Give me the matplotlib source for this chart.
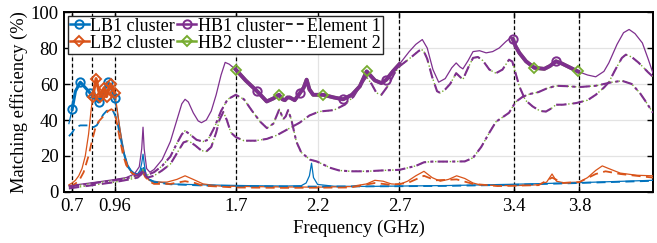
import matplotlib
matplotlib.use("Agg")
import matplotlib.pyplot as plt
from matplotlib.lines import Line2D

plt.rcParams['font.family'] = ['Liberation Serif', 'DejaVu Serif']
plt.rcParams['font.size'] = 13
plt.rcParams['axes.linewidth'] = 1.4
plt.rcParams['xtick.direction'] = 'in'
plt.rcParams['ytick.direction'] = 'in'
plt.rcParams['xtick.top'] = True
plt.rcParams['ytick.right'] = True

BLUE = '#0072BD'
ORANGE = '#D95319'
PURPLE = '#7E2F8E'
GREEN = '#77AC30'

# ---------------- data ----------------
band_edges = [0.7, 0.824, 0.96, 1.7, 2.7, 3.4, 3.8]
xtick_vals = [0.7, 0.96, 1.7, 2.2, 2.7, 3.4, 3.8]
xtick_labels = ['0.7', '0.96', '1.7', '2.2', '2.7', '3.4', '3.8']

# LB1 cluster, full-band (thin)
lb1_f = [0.68, 0.70, 0.72, 0.74, 0.76, 0.78, 0.80, 0.82, 0.84, 0.86, 0.88, 0.90, 0.915, 0.93, 0.945,
         0.96, 0.975, 0.99, 1.005, 1.02, 1.04, 1.06, 1.08, 1.10, 1.115, 1.125, 1.133, 1.14, 1.15,
         1.17, 1.2, 1.3, 1.4, 1.6, 1.8, 2.0, 2.1, 2.13, 2.15, 2.163, 2.175, 2.2, 2.3, 2.5, 2.7,
         3.0, 3.4, 3.8, 4.25]
lb1_e = [38, 46, 56, 60.5, 60.5, 58, 55.5, 53, 51.5, 50, 52, 57, 61, 60, 56,
         51, 45, 36, 28, 21, 15, 12, 10.5, 10, 12, 16, 21, 16, 10,
         7, 6, 4.5, 4.2, 3.8, 3.5, 3.3, 3.5, 5, 9, 16, 8, 4.2, 3.2, 3.1, 3.3,
         3.6, 4.3, 5.2, 6.5]
# LB1 cluster, in-band (thick)
lb1b_f = [0.70, 0.72, 0.75, 0.78, 0.81, 0.835, 0.862, 0.89, 0.917, 0.935, 0.96]
lb1b_e = [46, 56, 61, 58, 55, 52, 50, 55, 61, 59, 52]
lb1b_mk = [0.70, 0.75, 0.81, 0.862, 0.917, 0.96]
# LB1 element 1
lb1e1_f = [0.68, 0.70, 0.72, 0.75, 0.78, 0.80, 0.83, 0.85, 0.87, 0.89, 0.91, 0.93, 0.95, 0.965,
           0.98, 1.0, 1.02, 1.04, 1.07, 1.10, 1.12, 1.133, 1.145, 1.17, 1.2, 1.3, 1.5, 1.8,
           2.2, 2.7, 3.0, 3.4, 3.8, 4.25]
lb1e1_e = [31, 33, 36, 37, 37, 37, 36, 37, 40, 43, 45, 46, 45, 42,
           37, 28, 20, 14, 10.5, 9, 11, 15, 10, 7, 5.5, 4.3, 3.6, 3.2,
           3.0, 3.2, 3.4, 4.0, 5.0, 6.2]

# LB2 cluster, full-band (thin)
lb2_f = [0.68, 0.70, 0.72, 0.74, 0.76, 0.78, 0.80, 0.815, 0.826, 0.846, 0.87, 0.895, 0.91, 0.935,
         0.96, 0.975, 0.99, 1.005, 1.02, 1.04, 1.07, 1.10, 1.12, 1.133, 1.145, 1.17, 1.2, 1.28,
         1.34, 1.39, 1.44, 1.5, 1.6, 1.8, 2.0, 2.2, 2.4, 2.5, 2.55, 2.6, 2.65, 2.7, 2.75, 2.8,
         2.85, 2.9, 2.95, 3.0, 3.05, 3.1, 3.15, 3.2, 3.4, 3.55, 3.6, 3.633, 3.66, 3.7, 3.8,
         3.85, 3.9, 3.94, 3.98, 4.05, 4.15, 4.25]
lb2_e = [4, 5, 6.5, 9, 13, 20, 32, 45, 53, 63, 53, 58, 53, 60,
         55, 46, 36, 27, 20, 14, 10, 9, 10, 12, 9, 6.5, 5.5, 5.5,
         7, 9, 7, 4.5, 3.3, 3, 2.8, 2.7, 3, 4.5, 6.5, 6, 4.5, 4.2, 6, 9,
         11.5, 8, 6, 7, 9, 7.5, 5, 3.8, 3.5, 4, 5.5, 10, 6, 5.2, 5.5,
         8, 12, 14.5, 13, 10.5, 9.3, 9]
# LB2 cluster, in-band (thick)
lb2b_f = [0.826, 0.846, 0.87, 0.895, 0.91, 0.935, 0.96]
lb2b_e = [53, 63, 53, 58, 53, 60, 55]
lb2b_mk = [0.826, 0.846, 0.87, 0.895, 0.91, 0.935, 0.96]
# LB2 element 1
lb2e1_f = [0.68, 0.70, 0.74, 0.77, 0.80, 0.82, 0.84, 0.86, 0.88, 0.90, 0.92, 0.94, 0.955, 0.97,
           0.99, 1.01, 1.03, 1.06, 1.09, 1.12, 1.133, 1.145, 1.17, 1.2, 1.3, 1.39, 1.45, 1.5,
           1.7, 2.0, 2.4, 2.55, 2.65, 2.75, 2.85, 2.92, 3.05, 3.15, 3.3, 3.55, 3.633, 3.7, 3.8,
           3.9, 3.96, 4.05, 4.25]
lb2e1_e = [3, 3.5, 6, 11, 20, 28, 35, 39, 41, 43, 45, 46, 45, 40,
           30, 21, 15, 11, 9, 9.5, 11, 8.5, 6, 4.5, 4.5, 6, 5, 3.5,
           2.5, 2.3, 2.5, 5, 4, 5, 9, 6.5, 7, 4.5, 3.3, 3.8, 8, 5, 5.5,
           10, 11.5, 10, 8]

# HB1 cluster, full-band (thin)
hb1_f = [0.68, 0.75, 0.85, 0.95, 1.03, 1.08, 1.11, 1.125, 1.133, 1.14, 1.155, 1.175, 1.2, 1.25,
         1.3, 1.34, 1.37, 1.39, 1.41, 1.44, 1.47, 1.49, 1.52, 1.55, 1.58, 1.61, 1.635, 1.66,
         1.70, 1.76, 1.83, 1.889, 1.93, 1.964, 1.985, 2.0, 2.015, 2.03, 2.06, 2.092, 2.115,
         2.133, 2.15, 2.173, 2.234, 2.30, 2.356, 2.41, 2.458, 2.50, 2.55, 2.59, 2.62, 2.66,
         2.70, 2.76, 2.80, 2.84, 2.87, 2.905, 2.94, 2.98, 3.02, 3.047, 3.07, 3.088, 3.12, 3.15,
         3.19, 3.23, 3.27, 3.31, 3.35, 3.383, 3.41, 3.433, 3.474, 3.525, 3.586, 3.62, 3.657,
         3.69, 3.728, 3.79, 3.85, 3.9, 3.95, 3.98, 4.03, 4.07, 4.104, 4.14, 4.185, 4.22, 4.25]
hb1_e = [3.5, 4.3, 5.5, 6.8, 8, 10, 14, 24, 36, 24, 13, 11, 12.5, 18,
         28, 40, 49, 51.5, 50, 44, 39.5, 38.5, 40, 45, 54, 65, 72, 71,
         68, 62, 56, 50.3, 52, 54, 51.5, 51, 52.5, 52.5, 51, 55, 58,
         62.4, 57, 54, 54, 52.5, 51.5, 54, 58.7, 67, 62, 60.5, 62.4, 67,
         71, 78, 82, 84.7, 80, 68, 61, 63, 69, 71.7, 69.5, 68.4, 73, 78,
         78.5, 77.3, 78, 80, 83.5, 86, 81, 77.3, 72.6, 69, 68.4, 70, 72.6,
         71.5, 69.8, 67, 65, 64, 67, 71.7, 82, 88.5, 90.3, 88, 82.8, 74, 66]
# HB1 cluster, in-band (thick), two bands
hb1b1_f = [1.70, 1.76, 1.83, 1.889, 1.93, 1.964, 1.985, 2.0, 2.015, 2.03, 2.06, 2.092, 2.115,
           2.133, 2.15, 2.173, 2.234, 2.30, 2.356, 2.41, 2.458, 2.50, 2.55, 2.59, 2.62, 2.66, 2.70]
hb1b1_e = [68, 62, 56, 50.3, 52, 54, 51.5, 51, 52.5, 52.5, 51, 55, 58,
           62.4, 57, 54, 54, 52.5, 51.5, 54, 58.7, 67, 62, 60.5, 62.4, 67, 71]
hb1b2_f = [3.393, 3.41, 3.433, 3.474, 3.525, 3.586, 3.62, 3.657, 3.69, 3.728, 3.79]
hb1b2_e = [85, 81, 77.3, 72.6, 69, 68.4, 70, 72.6, 71.5, 69.8, 67]
hb1_mk = [1.83, 2.092, 2.356, 2.62, 3.393, 3.657]
hb2_mk = [1.70, 1.964, 2.234, 2.50, 3.525, 3.79]

# HB element 1 (dashed)
hbe1_f = [0.68, 0.8, 0.96, 1.05, 1.10, 1.125, 1.133, 1.14, 1.16, 1.2, 1.25, 1.3, 1.35, 1.38, 1.41,
          1.45, 1.49, 1.52, 1.55, 1.58, 1.60, 1.624, 1.645, 1.67, 1.70, 1.75, 1.82, 1.89, 1.95,
          2.03, 2.09, 2.15, 2.21, 2.30, 2.366, 2.42, 2.46, 2.499, 2.53, 2.56, 2.59, 2.63, 2.67,
          2.70, 2.76, 2.82, 2.845, 2.87, 2.9, 2.93, 2.95, 2.98, 3.01, 3.047, 3.07, 3.088, 3.12,
          3.15, 3.18, 3.21, 3.25, 3.29, 3.33, 3.37, 3.39, 3.41, 3.433, 3.47, 3.515, 3.56, 3.596,
          3.63, 3.657, 3.70, 3.78, 3.85, 3.90, 3.95, 3.98, 4.02, 4.06, 4.084, 4.12, 4.16, 4.185,
          4.22, 4.25]
hbe1_e = [2, 3.5, 5.5, 7, 8, 10, 12, 10, 8, 9, 12, 15.5, 23, 27.5, 28.5,
          26, 23, 22.5, 25, 33, 40, 44.5, 40, 33, 30.5, 28.5, 28.5, 29.5, 31.5,
          35.5, 38.5, 42.5, 44.7, 45.5, 48.5, 53, 59, 64, 60, 55, 54, 59, 66,
          69.8, 74, 78.5, 79, 74, 64, 56, 55, 57, 60, 66, 64, 62.5, 69,
          74.5, 75, 73, 68, 66, 68, 73.5, 72.5, 66, 58.7, 51, 47.5, 45, 44.7,
          46.5, 48.5, 48.5, 49.4, 51, 54, 58, 61, 68, 74.5, 76.3, 75, 72, 69.8,
          66.5, 64]
# HB element 2 (dash-dot)
hbe2_f = [0.68, 0.8, 0.96, 1.05, 1.10, 1.125, 1.133, 1.14, 1.16, 1.2, 1.25, 1.3, 1.34, 1.37, 1.39,
          1.42, 1.46, 1.50, 1.53, 1.57, 1.61, 1.65, 1.70, 1.75, 1.80, 1.85, 1.89, 1.93, 1.966,
          1.99, 2.005, 2.02, 2.04, 2.07, 2.10, 2.153, 2.194, 2.23, 2.275, 2.33, 2.4, 2.5, 2.6,
          2.7, 2.8, 2.85, 2.9, 3.0, 3.1, 3.15, 3.2, 3.25, 3.29, 3.33, 3.37, 3.41, 3.455, 3.5,
          3.55, 3.6, 3.657, 3.72, 3.8, 3.9, 4.0, 4.06, 4.12, 4.17, 4.2, 4.25]
hbe2_e = [3, 4.5, 6.5, 8, 9.5, 11, 12.5, 11, 9.5, 11, 14.5, 19.7, 27, 32, 34,
          32, 29, 28, 29, 36, 45, 51.5, 54, 51.5, 45, 39, 35.5, 38, 46,
          40.5, 42, 45.5, 40, 28, 22, 18, 17, 15.5, 13.5, 12, 11.5, 11.5, 12,
          12.3, 14.5, 16.5, 16.9, 16.9, 17, 19, 25, 33, 39, 41.5, 44, 50, 53, 54.5,
          55.5, 57.5, 59, 58.8, 58.3, 59, 61, 61.8, 60, 55, 51, 44]

# ---------------- figure ----------------
fig = plt.figure(figsize=(6.57, 2.43), dpi=100)
ax = fig.add_axes([64 / 657, 1 - 192 / 243, 589 / 657, 180 / 243])
ax.set_xlim(0.65, 4.25)
ax.set_ylim(0, 100)

ax.grid(True, color='#e3e3e3', linewidth=0.9, zorder=0)
ax.set_axisbelow(True)

for xv in band_edges:
    ax.axvline(xv, color='black', linestyle=(0, (3, 2)), linewidth=0.9, zorder=1)

dash = (0, (5, 3))
dashdot = (0, (5, 2, 1.5, 2))

# thin full-range curves
ax.plot(lb1_f, lb1_e, color=BLUE, lw=0.9, zorder=3)
ax.plot(lb2_f, lb2_e, color=ORANGE, lw=0.9, zorder=3)
ax.plot(hb1_f, hb1_e, color=PURPLE, lw=0.9, zorder=3)

# elements
ax.plot(lb1e1_f, lb1e1_e, color=BLUE, lw=1.3, linestyle=dash, zorder=3)
ax.plot(lb2e1_f, lb2e1_e, color=ORANGE, lw=1.3, linestyle=dash, zorder=3)
ax.plot(hbe1_f, hbe1_e, color=GREEN, lw=1.0, linestyle=':', zorder=3)
ax.plot(hbe1_f, hbe1_e, color=PURPLE, lw=1.5, linestyle=dash, zorder=3.1)
ax.plot(hbe2_f, hbe2_e, color=GREEN, lw=1.0, linestyle=':', zorder=3)
ax.plot(hbe2_f, hbe2_e, color=PURPLE, lw=1.5, linestyle=dashdot, zorder=3.1)

# thick in-band cluster curves
mk_lb1 = [lb1b_f.index(v) for v in lb1b_mk]
mk_lb2 = [lb2b_f.index(v) for v in lb2b_mk]
ax.plot(lb1b_f, lb1b_e, color=BLUE, lw=2.2, marker='o', ms=6, mfc='none', mew=1.4,
        markevery=mk_lb1, zorder=4)
ax.plot(lb2b_f, lb2b_e, color=ORANGE, lw=2.2, marker='D', ms=5.5, mfc='none', mew=1.4,
        markevery=mk_lb2, zorder=4.1)

for bf, be in ((hb1b1_f, hb1b1_e), (hb1b2_f, hb1b2_e)):
    ax.plot(bf, be, color=GREEN, lw=2.6, zorder=4)
    mk1 = [i for i, v in enumerate(bf) if v in hb1_mk]
    mk2 = [i for i, v in enumerate(bf) if v in hb2_mk]
    ax.plot(bf, be, color=PURPLE, lw=2.8, marker='o', ms=6, mfc='none', mew=1.4,
            markevery=mk1, zorder=4.2)
    ax.plot(bf, be, color=GREEN, lw=0, marker='D', ms=5.5, mfc='none', mew=1.3,
            markevery=mk2, zorder=4.3)

ax.set_xticks(xtick_vals)
ax.set_xticklabels(xtick_labels)
ax.set_yticks([0, 20, 40, 60, 80, 100])
ax.tick_params(axis='both', length=4, width=1.0, labelsize=13.5, pad=4)
ax.set_xlabel('Frequency (GHz)', fontsize=13.5, labelpad=4)
ax.set_ylabel('Matching efficiency (%)', fontsize=13.3, labelpad=2)

handles = [
    Line2D([], [], color=BLUE, lw=1.8, marker='o', ms=6, mfc='none', mew=1.4),
    Line2D([], [], color=ORANGE, lw=1.8, marker='D', ms=5.5, mfc='none', mew=1.4),
    Line2D([], [], color=PURPLE, lw=1.8, marker='o', ms=6, mfc='none', mew=1.4),
    Line2D([], [], color=GREEN, lw=1.8, marker='D', ms=5.5, mfc='none', mew=1.4),
    Line2D([], [], color='black', lw=1.2, linestyle=(0, (4, 2.5))),
    Line2D([], [], color='black', lw=1.2, linestyle=(0, (4, 2, 1.2, 2))),
]
labels = ['LB1 cluster', 'LB2 cluster', 'HB1 cluster', 'HB2 cluster', 'Element 1', 'Element 2']
leg = ax.legend(handles, labels, ncol=3, loc='upper left', bbox_to_anchor=(0.0, 1.0),
                fontsize=13, frameon=True, fancybox=False, framealpha=1,
                edgecolor='#262626', borderpad=0.12, labelspacing=0.0,
                handlelength=1.05, handletextpad=0.08, columnspacing=0.12,
                borderaxespad=0.2)
leg.get_frame().set_linewidth(1.0)
leg.set_zorder(10)

fig.savefig('out.png', dpi=100)
